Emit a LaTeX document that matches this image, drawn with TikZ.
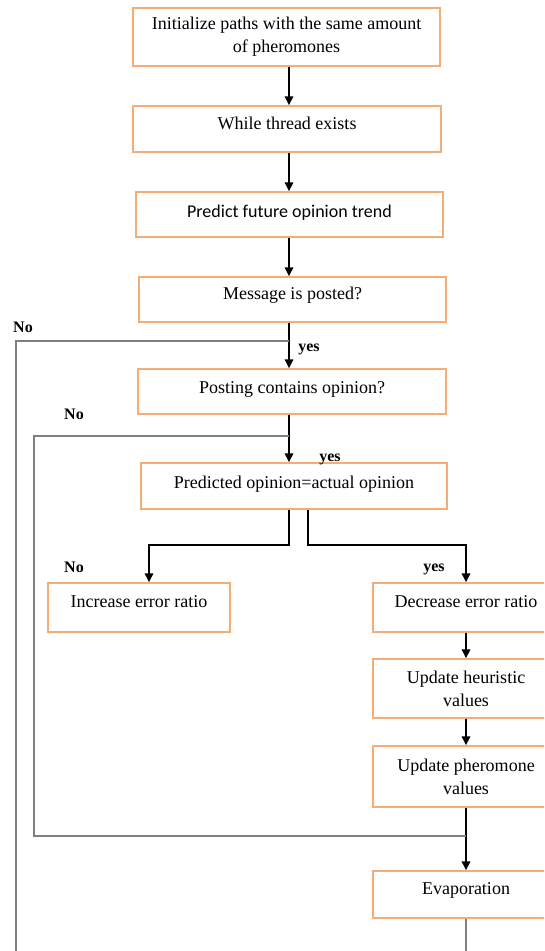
\documentclass[tikz,border=0pt]{standalone}
\usepackage{fontspec}
\setmainfont{Liberation Serif}
\newfontfamily\calib{Carlito}
\usetikzlibrary{arrows.meta}
\definecolor{boxorange}{HTML}{F5AD78}
\definecolor{loopgrey}{HTML}{7F7F7F}
\tikzset{
  box/.style={draw=boxorange, line width=1.4pt, fill=white, inner sep=0pt,
    align=center, font=\fontsize{18}{23}\selectfont},
  arr/.style={draw=black, line width=1.6pt, -{Triangle[length=9pt,width=8.5pt]}},
  gline/.style={draw=loopgrey, line width=1.6pt},
  lbl/.style={font=\bfseries\fontsize{16}{18}\selectfont, anchor=base, inner sep=0pt}
}
\begin{document}
\begin{tikzpicture}[x=1pt,y=-1pt]
\useasboundingbox[fill=white] (0,0) rectangle (544,951);
\clip (0,0) rectangle (544,951);
% boxes
\node[box, minimum width=307pt, minimum height=58pt] (b1) at (286.5,37)
  {Initialize paths with the same amount\\of pheromones};
\node[box, minimum width=308pt, text height=23pt, text depth=23pt] (b2) at (287,129)
  {While thread exists};
\node[box, minimum width=307pt, text height=25pt, text depth=20pt, font=\calib\fontsize{18}{23}\selectfont] (b3) at (289.5,214.5)
  {Predict future opinion trend};
\node[box, minimum width=307pt, text height=22pt, text depth=23pt] (b4) at (292.5,299.5)
  {Message is posted?};
\node[box, minimum width=308pt, text height=24pt, text depth=21pt] (b5) at (292,391.5)
  {Posting contains opinion?};
\node[box, minimum width=306pt, text height=25pt, text depth=21pt] (b6) at (294,486)
  {Predicted opinion=actual opinion};
\node[box, minimum width=182pt, text height=24pt, text depth=25pt] (inc) at (139,607.5)
  {Increase error ratio};
\node[box, minimum width=186pt, text height=24pt, text depth=25pt] (dec) at (466,607.5)
  {Decrease error ratio};
\node[box, minimum width=186pt, minimum height=59pt] (heu) at (466,688.5)
  {Update heuristic\\values};
\node[box, minimum width=186pt, minimum height=61pt] (phe) at (466,776.5)
  {Update pheromone\\values};
\node[box, minimum width=186pt, text height=23pt, text depth=24pt] (eva) at (466,894.5)
  {Evaporation};
% helper coordinates
\coordinate (ax) at (289,0);
\coordinate (j1) at (289,341);
\coordinate (e1) at (16,951);
\coordinate (j2) at (289,436);
\coordinate (c2) at (34,836);
\coordinate (al) at (149,545);
\coordinate (rx) at (308,545);
\coordinate (e2) at (466,951);
% main axis arrows
\draw[arr] (b1.south -| ax) -- (b2.north -| ax);
\draw[arr] (b2.south -| ax) -- (b3.north -| ax);
\draw[arr] (b3.south -| ax) -- (b4.north -| ax);
\draw[arr] (b4.south -| ax) -- (b5.north -| ax);
\draw[arr] (b5.south -| ax) -- (b6.north -| ax);
% split
\draw[arr] (b6.south -| ax) |- (al) -- (al |- inc.north);
\draw[arr] (b6.south -| rx) -- (rx) -| (dec.north);
% right column
\draw[arr] (dec) -- (heu);
\draw[arr] (heu) -- (phe);
\draw[arr] (phe) -- (eva);
% loops
\draw[gline] (j1) -| (e1);
\draw[gline] (j2) -| (c2) -- (c2 -| phe.south);
\draw[gline] (eva.south) -- (e2);
% labels
\node[lbl] (no1) at (23,332) {No};
\node[lbl] (yes1) at (309,351) {yes};
\node[lbl] (no2) at (74,419) {No};
\node[lbl] (yes2) at (330,461) {yes};
\node[lbl] (no3) at (74,572) {No};
\node[lbl] (yes3) at (434,571) {yes};
\end{tikzpicture}
\end{document}
